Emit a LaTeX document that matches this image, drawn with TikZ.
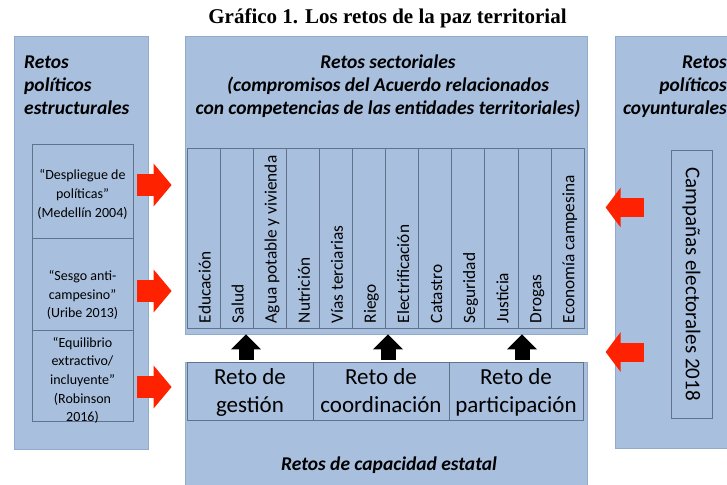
\documentclass[tikz,border=0pt]{standalone}
\usepackage{fontspec}
\setmainfont{Carlito}
\newfontfamily\titlefont{Liberation Serif}
\usetikzlibrary{arrows.meta}

\definecolor{panelblue}{RGB}{168,191,222}
\definecolor{panelline}{RGB}{146,170,204}
\definecolor{boxline}{RGB}{96,114,140}
\definecolor{arrowred}{RGB}{255,34,0}

\begin{document}
\begin{tikzpicture}[x=1pt,y=-1pt,
    redarr/.style={arrowred,line width=22pt,-{Triangle[length=18pt,width=42pt]}},
    redarrb/.style={arrowred,line width=19pt,-{Triangle[length=15pt,width=39pt]}},
    blkarr/.style={black,line width=15pt,-{Triangle[length=15pt,width=29pt]}},
    ttl/.style={font=\fontsize{19.5}{23}\selectfont\bfseries\itshape,inner sep=0}]

      \useasboundingbox (0,0) rectangle (727,484);
      \clip (0,0) rectangle (727,484);
      \fill[white] (0,0) rectangle (727,484);

      \node[font=\titlefont\fontsize{21}{25}\selectfont\bfseries,anchor=base,inner sep=0] (title) at (387.5,24) {Gráfico 1. Los retos de la paz territorial};

      % panels
      \begin{scope}[every node/.style={draw=panelline,fill=panelblue,inner sep=0,line width=0.8pt}]
        \node[minimum width=134,minimum height=413] (lft)  at (81,242.5)  {};
        \node[minimum width=402,minimum height=298] (sect) at (386,185)   {};
        \node[minimum width=402,minimum height=140] (cap)  at (386,432)   {};
        \node[minimum width=145,minimum height=412] (rgt)  at (687.5,242) {};
      \end{scope}

      \node[ttl,align=left,anchor=base west]   (lfttl)  at (24,114)  {Retos\\políticos\\estructurales};
      \node[ttl,align=center,anchor=base]      (secttl) at (388,114) {Retos sectoriales\\(compromisos del Acuerdo relacionados\\con competencias de las entidades territoriales)};
      \node[ttl,align=right,anchor=base east]  (rgtttl) at (727,114) {Retos\\políticos\\coyunturales};
      \node[ttl,anchor=base]                   (capttl) at (389,470) {Retos de capacidad estatal};

      % boxes
      \begin{scope}[every node/.style={draw=boxline,fill=panelblue,inner sep=0,line width=0.6pt}]
        \node[minimum width=101,minimum height=94] (d1) at (82.5,191)   {};
        \node[minimum width=101,minimum height=92] (d2) at (82.5,284)   {};
        \node[minimum width=101,minimum height=91] (d3) at (82.5,375.5) {};
        \foreach \i in {1,...,12}
          \node[minimum width=33.08,minimum height=180] (c\i) at ({170.46+33.08*\i},238) {};
        \begin{scope}[every node/.append style={font=\fontsize{23}{28}\selectfont,align=center,text depth=0pt}]
          \node[minimum width=126,minimum height=58] (r1) at (250,391) {Reto de\\gestión};
          \node[minimum width=136,minimum height=58] (r2) at (381,391) {Reto de\\coordinación};
          \node[minimum width=134,minimum height=58] (r3) at (516,391) {Reto de\\participación};
        \end{scope}
        \node[rotate=-90,minimum width=268,minimum height=41,font=\fontsize{21}{24}\selectfont] (camp) at (691.5,284) {Campañas electorales 2018};
      \end{scope}

      \begin{scope}[every node/.style={font=\fontsize{14}{18.7}\selectfont,align=center,inner sep=0}]
        \node (d1t) at ([yshift=-3.5pt]d1.center)  {“Despliegue de\\políticas”\\(Medellín 2004)};
        \node (d2t) at ([yshift=-11pt]d2.center)   {“Sesgo anti-\\campesino”\\(Uribe 2013)};
        \node (d3t) at ([yshift=-5pt]d3.center)    {“Equilibrio\\extractivo/\\incluyente”\\(Robinson\\2016)};
      \end{scope}

      \foreach \i/\t in {1/Educación,2/Salud,3/Agua potable y vivienda,4/Nutrición,5/Vías terciarias,6/Riego,7/Electrificación,8/Catastro,9/Seguridad,10/Justicia,11/Drogas,12/Economía campesina}
        \node[rotate=90,anchor=base west,inner sep=0,font=\fontsize{17.3}{20}\selectfont] (l\i) at ([xshift=7pt,yshift=5pt]c\i.south) {\t};

      % arrows
      \coordinate (la1) at (137,185);
      \coordinate (la2) at (137,291);
      \coordinate (la3) at (137,387);
      \coordinate (ra1) at (644,207.5);
      \coordinate (ra2) at (644,352);
      \coordinate (ba1) at (246,360);
      \coordinate (ba2) at (388,360);
      \coordinate (ba3) at (522,360);

      \draw[redarr] (la1) -- ([xshift=-13pt]la1 -| sect.west);
      \draw[redarr] (la2) -- ([xshift=-13pt]la2 -| sect.west);
      \draw[redarr] (la3) -- ([xshift=-13pt]la3 -| cap.west);
      \draw[redarrb] (ra1) -- ([xshift=-9pt]ra1 -| rgt.west);
      \draw[redarrb] (ra2) -- ([xshift=-9pt]ra2 -| rgt.west);
      \draw[blkarr] (ba1) -- (ba1 |- sect.south);
      \draw[blkarr] (ba2) -- (ba2 |- sect.south);
      \draw[blkarr] (ba3) -- (ba3 |- sect.south);

    \end{tikzpicture}
\end{document}
